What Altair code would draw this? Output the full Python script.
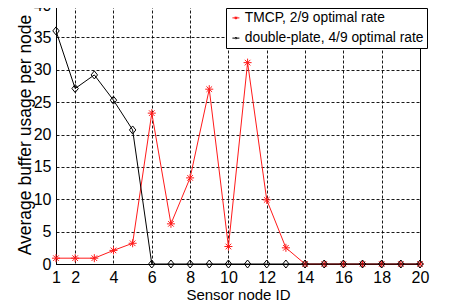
import altair as alt
import pandas as pd

node = list(range(1, 21))
tmcp = [0.9, 0.9, 0.9, 2.1, 3.2, 23.3, 6.2, 13.3, 27.0, 2.7, 31.1, 9.9, 2.5,
        0, 0, 0, 0, 0, 0, 0]
double_plate = [36.0, 27.1, 29.2, 25.3, 20.7, 0, 0, 0, 0, 0, 0, 0, 0,
                0, 0, 0, 0, 0, 0, 0]
series_names = ["TMCP, 2/9 optimal rate", "double-plate, 4/9 optimal rate"]
x_ticks = [1, 2, 4, 6, 8, 10, 12, 14, 16, 18, 20]
y_ticks = [0, 5, 10, 15, 20, 25, 30, 35, 40]

RED = "#ff1a1a"
STAR = "M-1,0L1,0M0,-1L0,1M-0.7,-0.7L0.7,0.7M-0.7,0.7L0.7,-0.7"
DIAMOND = "M0,-1L0.8,0L0,1L-0.8,0Z"
LEG_STAR = "M-1,0L1,0M-0.3,-0.3L0.3,0.3M-0.3,0.3L0.3,-0.3M0,-0.42L0,0.42M-0.42,0L0.42,0"
LEG_DIAM = "M-1,0L-0.3,0M0.3,0L1,0M0,-0.3L0.3,0L0,0.3L-0.3,0Z"

df_t = pd.DataFrame({"node": node, "value": tmcp, "series": series_names[0]})
df_d = pd.DataFrame({"node": node, "value": double_plate, "series": series_names[1]})
df = pd.concat([df_t, df_d])

FONT = "Liberation Sans"

x = alt.X("node:Q", scale=alt.Scale(domain=[1, 20], nice=False, zero=False),
          axis=alt.Axis(values=x_ticks, title="Sensor node ID", format="d", labelFlush=False))
y = alt.Y("value:Q", scale=alt.Scale(domain=[0, 40], nice=False),
          axis=alt.Axis(values=y_ticks, title="Average buffer usage per node", format="d",
                        labelFlush=False))

t_line = alt.Chart(df_t).mark_line(color=RED, strokeWidth=1).encode(x=x, y=y)
t_pts = alt.Chart(df_t).mark_point(shape=STAR, color=RED, size=64, strokeWidth=1,
                                   filled=False, opacity=1).encode(x=x, y=y)
d_line = alt.Chart(df_d).mark_line(color="black", strokeWidth=1).encode(x=x, y=y)
d_pts = alt.Chart(df_d).mark_point(shape=DIAMOND, color="black", size=64, strokeWidth=1,
                                   filled=False, opacity=1).encode(x=x, y=y)

legend = alt.Legend(title=None, orient="none", legendX=170, legendY=3,
                    fillColor="white", strokeColor="black", padding=3,
                    labelFont=FONT, labelFontSize=13.8, labelColor="black", labelLimit=400,
                    labelOffset=2, rowPadding=5.2, symbolSize=49,
                    symbolStrokeWidth=1, symbolOpacity=1, symbolFillColor="transparent",
                    cornerRadius=0)
leg = alt.Chart(df).mark_point(filled=False, opacity=0).encode(
    x=x, y=y,
    color=alt.Color("series:N", scale=alt.Scale(domain=series_names, range=[RED, "black"]),
                    legend=legend),
    shape=alt.Shape("series:N", scale=alt.Scale(domain=series_names, range=[LEG_STAR, LEG_DIAM]),
                    legend=legend),
)

chart = alt.layer(t_line, t_pts, d_line, d_pts, leg).properties(
    width=364, height=259,
    autosize=alt.AutoSizeParams(type="none"),
    padding={"left": 48, "top": -3, "right": 20, "bottom": 40},
).configure_view(stroke="black", strokeWidth=1).configure_axis(
    labelFont=FONT, labelFontSize=16, labelColor="black",
    titleFont=FONT, titleFontSize=15, titleFontWeight="normal", titleColor="black",
    grid=True, gridColor="black", gridDash=[3, 2], gridWidth=1, gridOpacity=0.9,
    domainColor="black", domainWidth=1, ticks=False, labelPadding=5,
).configure_axisY(titlePadding=-1, titleFontSize=17.5).configure_axisX(titlePadding=2)

chart.save("out.html", embed_options={"renderer": "svg", "actions": False})
